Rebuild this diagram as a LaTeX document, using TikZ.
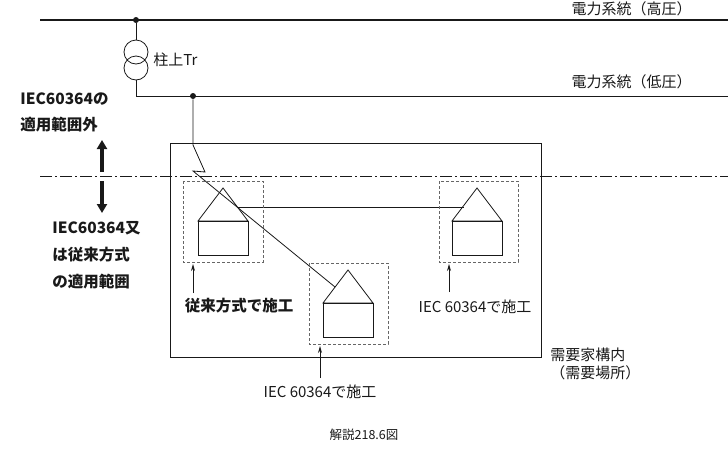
\documentclass[tikz,border=0pt]{standalone}
\usepackage{fontspec}
\newfontfamily\cjk{Noto Sans CJK JP}
\usepackage{tikz}
\usetikzlibrary{arrows.meta,calc}

\tikzset{
	lbl/.style={font=\cjk\fontsize{15}{18}\selectfont,inner sep=0pt},
	boldlbl/.style={font=\cjk\bfseries\fontsize{15.5}{18}\selectfont,inner sep=0pt,anchor=west},
	dbox/.style={densely dashed,gray!80!black},
	pt/.style={circle,fill,inner sep=0pt,minimum size=6pt},
	thick arrow/.style={line width=3.5pt,-{Triangle[length=9pt,width=10pt]}},
	thin arrow/.style={-{Stealth[length=7pt,width=4pt]}}
}
\newcommand{\house}[2]{% apex x, apex y
	\draw (#1-25,#2+33)--(#1,#2)--(#1+25,#2+33)--cycle;
	\draw (#1-25,#2+33) rectangle (#1+25,#2+67);
}

\begin{document}
\begin{tikzpicture}[x=1pt,y=-1pt,line width=0.8pt,gray!20!black]
		\useasboundingbox (0,0) rectangle (728,453);
		% power lines
		\draw[line width=1.3pt] (40,20)--(728,20);
		\node[pt] (hv) at (136,20) {};
		\node[lbl,anchor=east] (hvlbl) at (692,9) {電力系統（高圧）};
		\draw (136,52) circle (12) (136,68) circle (12);
		\coordinate (trtop) at (136,40);
		\coordinate (trbot) at (136,80);
		\draw (hv)--(trtop);
		\node[lbl,anchor=west] (trlbl) at (153,60) {柱上Tr};
		\draw (trbot)--(136,96)--(728,96);
		\node[pt] (lv) at (193,96) {};
		\node[lbl,anchor=east] (lvlbl) at (692,82) {電力系統（低圧）};
		
		% boundary and premises
		\draw[dash pattern=on 12pt off 3pt on 2pt off 3pt] (40,176)--(728,176);
		\draw (170,143) rectangle (541,357);
		\node[lbl,anchor=north west,align=left] (prem) at (550,347) {需要家構内\\（需要場所）};
		
		% service drop
		\coordinate (zz1) at (193,145);
		\coordinate (zz2) at (205,172);
		\coordinate (zz3) at (193,171);
		\coordinate (h2roof) at (335,287);
		\draw (lv)--(zz1)--(zz2)--(zz3)--(h2roof);
		\draw (237,207)--(464,207);
		
		% houses
		\draw[dbox] (183,181) rectangle (263,262);
		\draw[dbox] (439,181) rectangle (518,262);
		\draw[dbox] (309,263) rectangle (388,344);
		\house{223}{188}
		\house{477}{188}
		\house{348}{270}
		
		% labels with arrows
		\node[lbl,font=\cjk\bfseries\fontsize{15.5}{18}\selectfont] (conv) at (239,306) {従来方式で施工};
		\draw[thin arrow] (193,293)--(193,264);
		\node[lbl] (iecr) at (475,307) {IEC 60364で施工};
		\draw[thin arrow] (449,292)--(449,264);
		\node[lbl] (iecb) at (320,392) {IEC 60364で施工};
		\draw[thin arrow] (320,378)--(320,346);
		
		% scope labels
		\node[boldlbl] (out1) at (20,99) {IEC60364の};
		\node[boldlbl] (out2) at (20,125) {適用範囲外};
		\draw[thick arrow] (102,172)--(102,140);
		\draw[thick arrow] (102,181)--(102,213);
		\node[boldlbl] (in1) at (52,228) {IEC60364又};
		\node[boldlbl] (in2) at (52,255) {は従来方式};
		\node[boldlbl] (in3) at (52,282) {の適用範囲};
		
		\node[lbl,font=\cjk\fontsize{12.5}{15}\selectfont] (cap) at (364,435) {解説218.6図};
	\end{tikzpicture}
\end{document}
